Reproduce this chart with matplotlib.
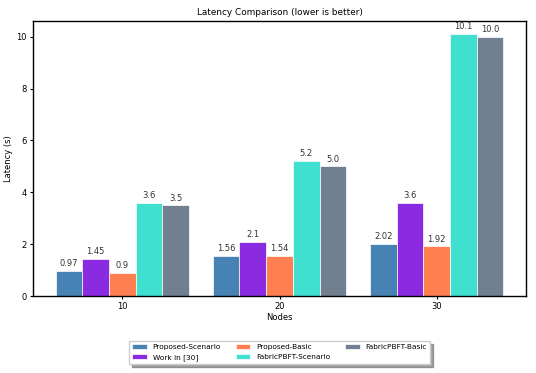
import numpy as np
import matplotlib.pyplot as plt

nodes = ['10', '20', '30']
series_names = ['Proposed-Scenario', 'Work in [30]', 'Proposed-Basic',
                'FabricPBFT-Scenario', 'FabricPBFT-Basic']
proposed_scenario = [0.97, 1.56, 2.02]
work_30 = [1.45, 2.1, 3.6]
proposed_basic = [0.9, 1.54, 1.92]
pbft_scenario = [3.6, 5.2, 10.1]
pbft_basic = [3.5, 5.0, 10.0]
colors = ['steelblue', 'blueviolet', 'coral', 'turquoise', 'slategray']

values = [proposed_scenario, work_30, proposed_basic, pbft_scenario, pbft_basic]

fig = plt.figure(figsize=(5.36, 3.73), dpi=100)
ax = fig.add_axes([0.062, 0.206, 0.919, 0.738])

x = np.arange(len(nodes))
width = 0.17
for i, (name, vals, c) in enumerate(zip(series_names, values, colors)):
    pos = x + (i - 2) * width
    bars = ax.bar(pos, vals, width, label=name, color=c, edgecolor='white', linewidth=0.5)
    for b, v in zip(bars, vals):
        ax.annotate(str(v), (b.get_x() + b.get_width() / 2, b.get_height()),
                    xytext=(0, 2), textcoords='offset points',
                    ha='center', va='bottom', fontsize=6, color='#333333')

ax.set_xticks(x)
ax.set_xticklabels(nodes)
ax.set_xlabel('Nodes', fontsize=6, labelpad=1)
ax.set_ylabel('Latency (s)', fontsize=6, labelpad=2.5)
ax.set_title('Latency Comparison (lower is better)', fontsize=6.4, pad=4)
ax.tick_params(labelsize=6, length=2.5, pad=2)
for s in ax.spines.values():
    s.set_linewidth(1.0)

ax.legend(loc='upper center', bbox_to_anchor=(0.5, -0.15), ncol=3,
          fontsize=5.3, shadow=True, fancybox=False, handlelength=2.0,
          columnspacing=2.0, labelspacing=0.55)

fig.savefig('out.png', dpi=100)
